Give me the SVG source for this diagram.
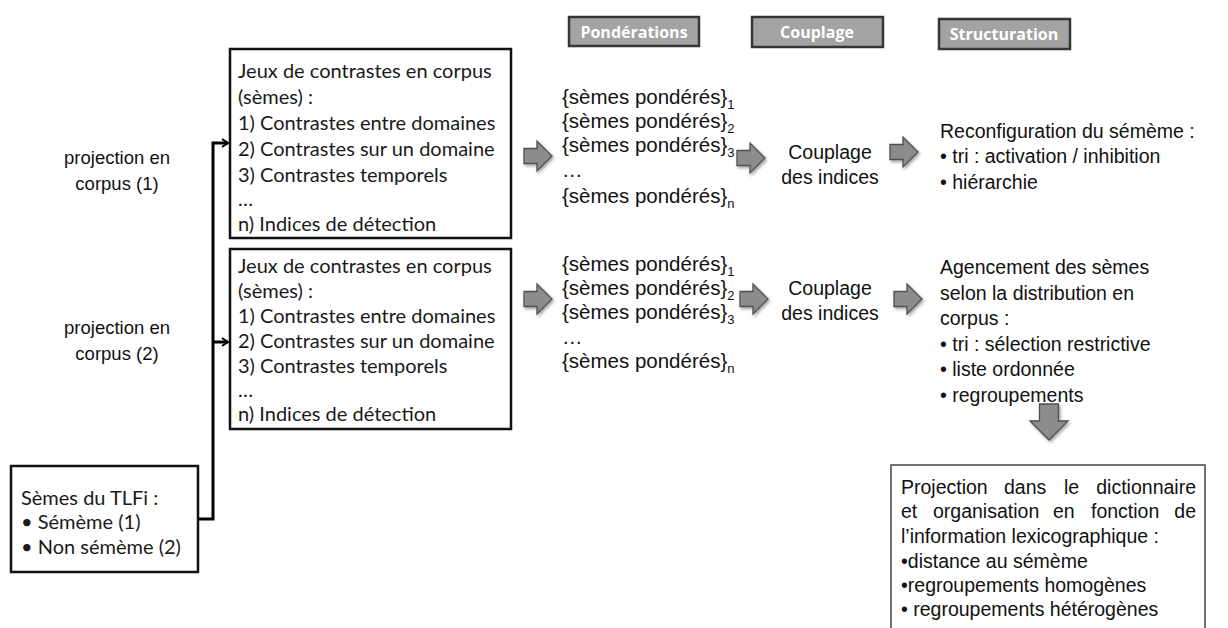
<svg xmlns="http://www.w3.org/2000/svg" xmlns:xlink="http://www.w3.org/1999/xlink" width="1228" height="628" viewBox="0 0 1228 628">
<style>
.hdr rect{fill:#a3a3a3;stroke:#363636;stroke-width:2.5}
.hdr text{font-family:"Open Sans","Liberation Sans",sans-serif;font-weight:bold;font-size:16px;fill:#ffffff;text-anchor:middle}
.box{fill:#ffffff;stroke:#111111;stroke-width:2.5}
.cal{font-family:Lato,"Open Sans",sans-serif;font-size:20px;fill:#1a1a1a}
.ar{font-family:"Liberation Sans",Arial,sans-serif;font-size:19.5px;fill:#111111}
.pw{font-size:20.5px}
.lb{font-family:"Liberation Sans",Arial,sans-serif;font-size:18.5px;fill:#111111;text-anchor:middle}
.sub{font-size:13px}
.mid{text-anchor:middle}
.conn{fill:none;stroke:#000000;stroke-width:3}
.blk{fill:#8c8c8c;stroke:#505050;stroke-width:1.3}
</style>
<defs>
<filter id="sh" x="-30%" y="-30%" width="160%" height="160%">
<feDropShadow dx="1.5" dy="2" stdDeviation="1.5" flood-color="#000" flood-opacity="0.35"/>
</filter>
<marker id="ah" markerWidth="10" markerHeight="10" refX="8" refY="5" orient="auto" markerUnits="userSpaceOnUse">
<path d="M2,1 L8,5 L2,9" fill="none" stroke="#000" stroke-width="2"/>
</marker>
<path id="ra" d="M0,7.5 H13 V0 L28,15 L13,30 V22.5 H0 Z"/>
<path id="da" d="M9.5,0 H28.5 V17 H38 L19,36 L0,17 H9.5 Z"/>
</defs>

<g id="headers" class="hdr">
<g id="h-ponderations"><rect x="569" y="17" width="130" height="29"/><text x="634" y="37.5">Pondérations</text></g>
<g id="h-couplage"><rect x="752" y="17" width="131" height="30"/><text x="817" y="38">Couplage</text></g>
<g id="h-structuration"><rect x="939" y="19" width="131" height="30"/><text x="1004" y="40">Structuration</text></g>
</g>

<g id="lbl-proj1" class="lb"><text x="117" y="164">projection en</text><text x="117" y="190">corpus (1)</text></g>
<g id="lbl-proj2" class="lb"><text x="117" y="334">projection en</text><text x="117" y="360">corpus (2)</text></g>

<g id="tlfi">
<rect class="box" x="11" y="466" width="187" height="106"/>
<g class="cal"><text x="21" y="505">Sèmes du TLFi :</text><text x="21" y="529">• Sémème (1)</text><text x="21" y="554">• Non sémème (2)</text></g>
</g>

<g id="contrastes1">
<rect class="box" x="230" y="49" width="281" height="189"/>
<g class="cal">
<text x="238" y="78">Jeux de contrastes en corpus</text>
<text x="238" y="104">(sèmes) :</text>
<text x="238" y="130">1) Contrastes entre domaines</text>
<text x="238" y="156">2) Contrastes sur un domaine</text>
<text x="238" y="182">3) Contrastes temporels</text>
<text x="238" y="206">…</text>
<text x="238" y="231">n) Indices de détection</text>
</g>
</g>

<g id="contrastes2">
<rect class="box" x="230" y="249" width="281" height="180"/>
<g class="cal">
<text x="238" y="273">Jeux de contrastes en corpus</text>
<text x="238" y="298">(sèmes) :</text>
<text x="238" y="323">1) Contrastes entre domaines</text>
<text x="238" y="348">2) Contrastes sur un domaine</text>
<text x="238" y="373">3) Contrastes temporels</text>
<text x="238" y="397">…</text>
<text x="238" y="421">n) Indices de détection</text>
</g>
</g>

<g id="connectors">
<path class="conn" d="M198,519 H213 V143 H228" marker-end="url(#ah)"/>
<path class="conn" d="M213,342 H228" marker-end="url(#ah)"/>
</g>

<g id="ponderes1" class="ar pw">
<text x="562" y="104">{sèmes pondérés}<tspan class="sub" dy="5">1</tspan></text>
<text x="562" y="128">{sèmes pondérés}<tspan class="sub" dy="5">2</tspan></text>
<text x="562" y="152">{sèmes pondérés}<tspan class="sub" dy="5">3</tspan></text>
<text x="562" y="177">…</text>
<text x="562" y="203">{sèmes pondérés}<tspan class="sub" dy="5">n</tspan></text>
</g>

<g id="ponderes2" class="ar pw">
<text x="562" y="271">{sèmes pondérés}<tspan class="sub" dy="5">1</tspan></text>
<text x="562" y="295">{sèmes pondérés}<tspan class="sub" dy="5">2</tspan></text>
<text x="562" y="319">{sèmes pondérés}<tspan class="sub" dy="5">3</tspan></text>
<text x="562" y="344">…</text>
<text x="562" y="368">{sèmes pondérés}<tspan class="sub" dy="5">n</tspan></text>
</g>

<g id="couplage1" class="ar mid"><text x="830" y="159">Couplage</text><text x="830" y="184">des indices</text></g>
<g id="couplage2" class="ar mid"><text x="830" y="295">Couplage</text><text x="830" y="320">des indices</text></g>

<g id="struct1" class="ar">
<text x="940" y="138">Reconfiguration du sémème :</text>
<text x="940" y="163">• tri : activation / inhibition</text>
<text x="940" y="189">• hiérarchie</text>
</g>

<g id="struct2" class="ar">
<text x="940" y="274">Agencement des sèmes</text>
<text x="940" y="300">selon la distribution en</text>
<text x="940" y="325">corpus :</text>
<text x="940" y="351">• tri : sélection restrictive</text>
<text x="940" y="376">• liste ordonnée</text>
<text x="940" y="402">• regroupements</text>
</g>

<g id="projection">
<rect x="891" y="465" width="314" height="180" fill="#fff" stroke="#444" stroke-width="1.5"/>
<g class="ar">
<text y="494"><tspan x="901">Projection</tspan><tspan x="1004">dans</tspan><tspan x="1064">le</tspan><tspan x="1196" text-anchor="end">dictionnaire</tspan></text>
<text y="518"><tspan x="901">et</tspan><tspan x="933">organisation</tspan><tspan x="1053">en</tspan><tspan x="1091">fonction</tspan><tspan x="1196" text-anchor="end">de</tspan></text>
<text x="901" y="543">l’information lexicographique :</text>
<text x="901" y="568">•distance au sémème</text>
<text x="901" y="592">•regroupements homogènes</text>
<text x="901" y="616">• regroupements hétérogènes</text>
</g>
</g>

<g id="block-arrows" class="blk" filter="url(#sh)">
<use xlink:href="#ra" x="524" y="141"/>
<use xlink:href="#ra" x="737" y="143"/>
<use xlink:href="#ra" x="890" y="137"/>
<use xlink:href="#ra" x="524" y="284"/>
<use xlink:href="#ra" x="740" y="284"/>
<use xlink:href="#ra" x="894" y="284"/>
<use xlink:href="#da" x="1030" y="404"/>
</g>
</svg>
